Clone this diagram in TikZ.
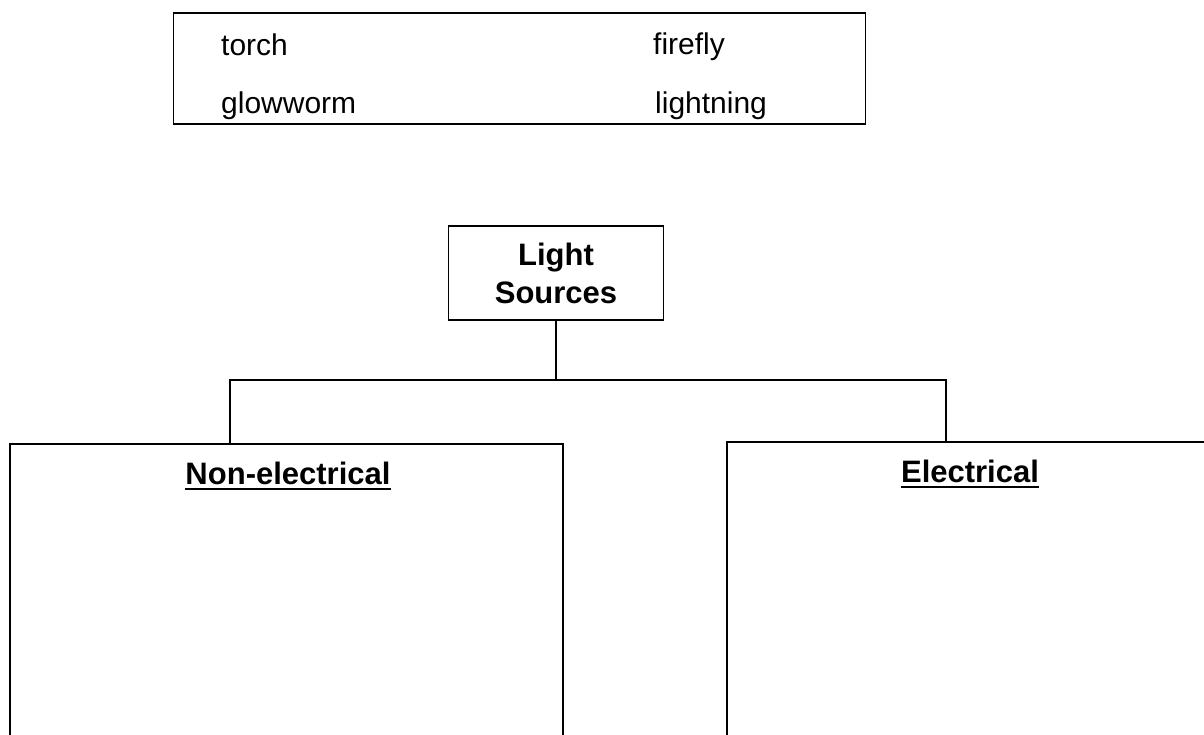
\documentclass[tikz,border=0pt]{standalone}
\usepackage{fontspec}
\setmainfont{Liberation Sans}
\begin{document}
\begin{tikzpicture}[x=1pt,y=-1pt,
  boxline/.style={draw=black,line width=1.8pt},
  wire/.style={draw=black,line width=1.8pt},
  word/.style={inner sep=0pt,anchor=base west,font=\fontsize{30}{36}\selectfont},
  head/.style={inner sep=0pt,anchor=base,font=\fontsize{31}{37}\selectfont\bfseries}]
\useasboundingbox (0,0) rectangle (1204,735);
% top word box
\node[boxline,minimum width=692pt,minimum height=111pt,inner sep=0pt] (words) at (519.5,68.5) {};
\node[word] (torch) at (221,56) {torch};
\node[word] (firefly) at (653,55) {firefly};
\node[word] (glowworm) at (221,114) {glowworm};
\node[word] (lightning) at (655,114) {lightning};
% root
\node[boxline,minimum width=215pt,minimum height=94pt,inner sep=0pt,align=center,
      font=\fontsize{31}{38}\selectfont\bfseries] (ls) at (556,273) {Light\\Sources};
% category boxes (open at the bottom)
\draw[boxline] (10,745) -- (10,444) -- (563,444) -- (563,745);
\draw[boxline] (727,745) -- (727,442) -- (1214,442);
\coordinate (ntop) at (230,444);
\coordinate (etop) at (946,442);
\coordinate (split) at (556,380);
% headings
\node[head] (ne) at (288,484) {Non-electrical};
\node[head] (el) at (970,482) {Electrical};
\draw[line width=2pt] ([yshift=-5pt]ne.base west) -- ([yshift=-5pt]ne.base east);
\draw[line width=2pt] ([yshift=-5pt]el.base west) -- ([yshift=-5pt]el.base east);
% connectors
\draw[wire] (ls.south) -- (split);
\draw[wire] (ntop) |- (split) -| (etop);
\end{tikzpicture}
\end{document}
